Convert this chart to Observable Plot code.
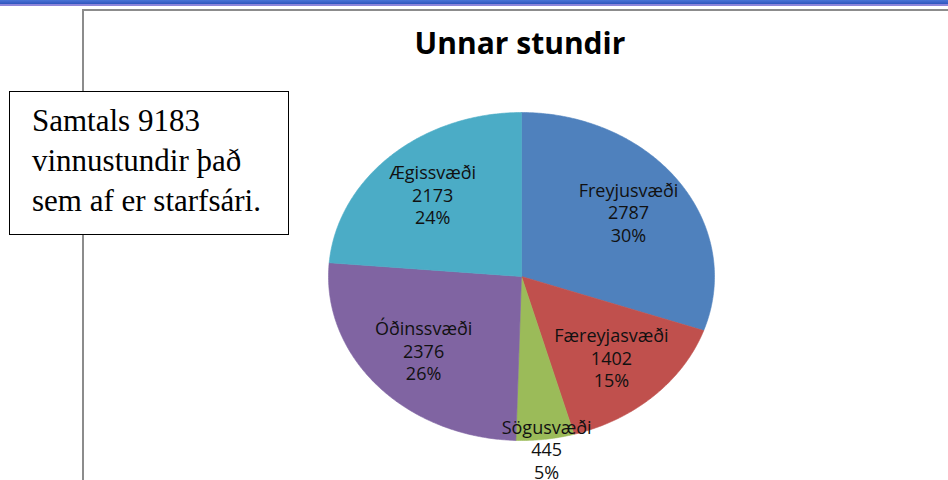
<!DOCTYPE html>
<html>
<head>
<meta charset="utf-8">
<script src="https://cdn.jsdelivr.net/npm/d3@7"></script>
<script src="https://cdn.jsdelivr.net/npm/@observablehq/plot@0.6"></script>
<style>
  html, body { margin: 0; padding: 0; background: #fff; }
  #wrap { position: relative; width: 948px; height: 480px; overflow: hidden; }
  #chart { position: absolute; left: 0; top: 0; }
  .topbar { position: absolute; left: 0; top: 0; width: 948px; height: 4px;
            background: linear-gradient(#4a74d6, #2f55bd); }
  .topbar2 { position: absolute; left: 0; top: 4px; width: 948px; height: 1.5px; background: #8e86da; }
  .frameTop { position: absolute; left: 82px; top: 9px; width: 870px; height: 2px; background: #8c8c8c; }
  .frameLeft { position: absolute; left: 82px; top: 9px; width: 2px; height: 480px; background: #8c8c8c; }
  .title { position: absolute; left: 320px; width: 400px; top: 22px; text-align: center;
           font-family: "Open Sans", sans-serif; font-weight: 700; font-size: 30px; color: #000; }
  .note { position: absolute; left: 9px; top: 91px; width: 280px; height: 144px; box-sizing: border-box;
          border: 1.5px solid #000; background: #fff; padding: 9px 0 0 22px;
          font-family: "Liberation Serif", "Times New Roman", serif; font-size: 31px; line-height: 40px; color: #000; }
</style>
</head>
<body>
<div id="wrap">
  <div id="chart"></div>
  <div class="topbar"></div>
  <div class="topbar2"></div>
  <div class="frameTop"></div>
  <div class="frameLeft"></div>
  <div class="title">Unnar stundir</div>
  <div class="note">Samtals 9183<br>vinnustundir það<br>sem af er starfsári.</div>
</div>
<script>
// Data
const categories = ["Freyjusvæði", "Færeyjasvæði", "Sögusvæði", "Óðinssvæði", "Ægissvæði"];
const values = [2787, 1402, 445, 2376, 2173];
const colors = ["#4F81BD", "#C0504D", "#9BBB59", "#8064A2", "#4BACC6"];

const total = d3.sum(values);
const arcs = d3.pie().sort(null).value(d => d)(values);

// Build slice outlines in unit-circle data space (x right, y up)
const slicePts = [];
arcs.forEach((a, i) => {
  const name = categories[i];
  const steps = Math.max(8, Math.ceil((a.endAngle - a.startAngle) / 0.01));
  slicePts.push({name, x: 0, y: 0});
  for (let k = 0; k <= steps; k++) {
    const t = a.startAngle + (a.endAngle - a.startAngle) * k / steps;
    slicePts.push({name, x: Math.sin(t), y: Math.cos(t)});
  }
  slicePts.push({name, x: 0, y: 0});
});

// Label anchors
const labels = arcs.map((a, i) => {
  const mid = (a.startAngle + a.endAngle) / 2;
  const share = values[i] / total;
  const r = share < 0.08 ? 1.06 : 0.68;
  return {
    name: categories[i],
    x: r * Math.sin(mid),
    y: r * Math.cos(mid),
    text: `${categories[i]}\n${values[i]}\n${Math.round(share * 100)}%`
  };
});

const chart = Plot.plot({
  width: 948,
  height: 480,
  margin: 0,
  x: {domain: [-1, 1], range: [328, 714], axis: null},
  y: {domain: [-1, 1], range: [440, 112], axis: null},
  color: {domain: categories, range: colors},
  style: {background: "transparent", overflow: "visible"},
  marks: [
    Plot.line(slicePts, {x: "x", y: "y", z: "name", fill: "name", stroke: "name", strokeWidth: 0.6, curve: "linear"}),
    Plot.text(labels, {x: "x", y: "y", text: "text", fontSize: 18, lineHeight: 1.25,
      fontFamily: "Open Sans, sans-serif", fill: "#111", textAnchor: "middle"})
  ]
});
document.getElementById("chart").appendChild(chart);
</script>
</body>
</html>
